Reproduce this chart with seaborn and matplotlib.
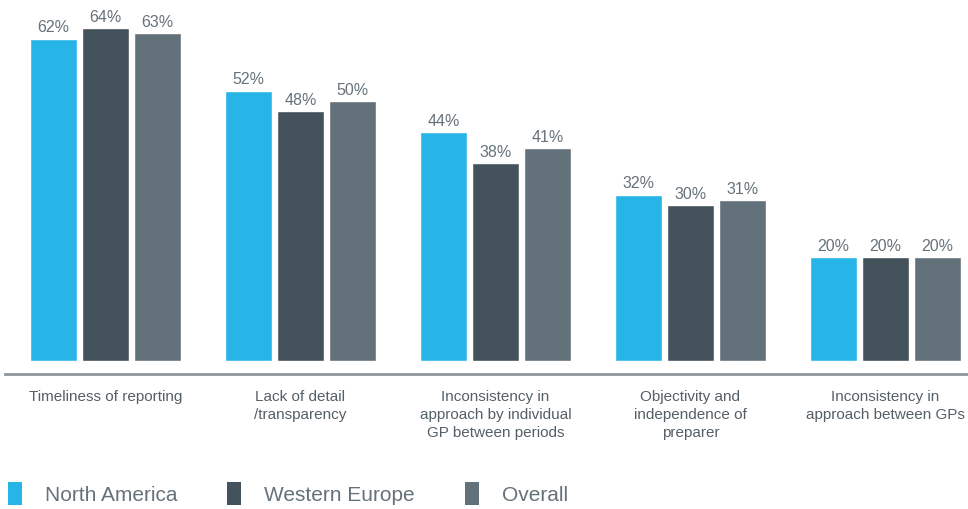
import matplotlib
matplotlib.use("Agg")
import matplotlib.pyplot as plt
from matplotlib.patches import Patch
import seaborn as sns
import pandas as pd

categories = [
    "Timeliness of reporting",
    "Lack of detail\n/transparency",
    "Inconsistency in\napproach by individual\nGP between periods",
    "Objectivity and\nindependence of\npreparer",
    "Inconsistency in\napproach between GPs",
]
regions = ["North America", "Western Europe", "Overall"]
north_america = [62, 52, 44, 32, 20]
western_europe = [64, 48, 38, 30, 20]
overall = [63, 50, 41, 31, 20]
colors = ["#27B5E8", "#44525C", "#63717A"]

df = pd.DataFrame({
    "category": categories * 3,
    "region": [r for r in regions for _ in categories],
    "value": north_america + western_europe + overall,
})

sns.set_theme(style="white")
plt.rcParams["font.family"] = ["Liberation Sans", "DejaVu Sans"]

fig = plt.figure(figsize=(9.68, 5.10), dpi=100)
ax = fig.add_axes([5 / 968, 135 / 510, 963 / 968, 375 / 510])

sns.barplot(data=df, x="category", y="value", hue="region", order=categories,
            hue_order=regions, palette=colors, width=0.8, gap=0.1,
            saturation=1, legend=False, ax=ax)

for cont in ax.containers:
    ax.bar_label(cont, fmt="%d%%", padding=3, fontsize=11.5, color="#66727A")

ax.set_xlim(-0.515, 4.423)
ax.set_ylim(-2.5, 69.6)
ax.set_xlabel("")
ax.set_ylabel("")
ax.set_yticks([])
ax.tick_params(axis="x", length=0, pad=11, labelsize=11, labelcolor="#555F66")
for lbl in ax.get_xticklabels():
    lbl.set_linespacing(1.35)
    lbl.set_verticalalignment("top")
for side in ["top", "left", "right"]:
    ax.spines[side].set_visible(False)
ax.spines["bottom"].set_color("#8C979D")
ax.spines["bottom"].set_linewidth(2)

handles = [Patch(facecolor=c, edgecolor="none") for c in colors]
fig.legend(handles, regions, loc="lower left", bbox_to_anchor=(8 / 968, 4 / 510),
           ncol=3, frameon=False, fontsize=15, labelcolor="#66727A",
           handlelength=0.67, handleheight=1.35, handletextpad=1.1,
           columnspacing=2.4, borderpad=0, borderaxespad=0)

fig.savefig("out.png", dpi=100)
